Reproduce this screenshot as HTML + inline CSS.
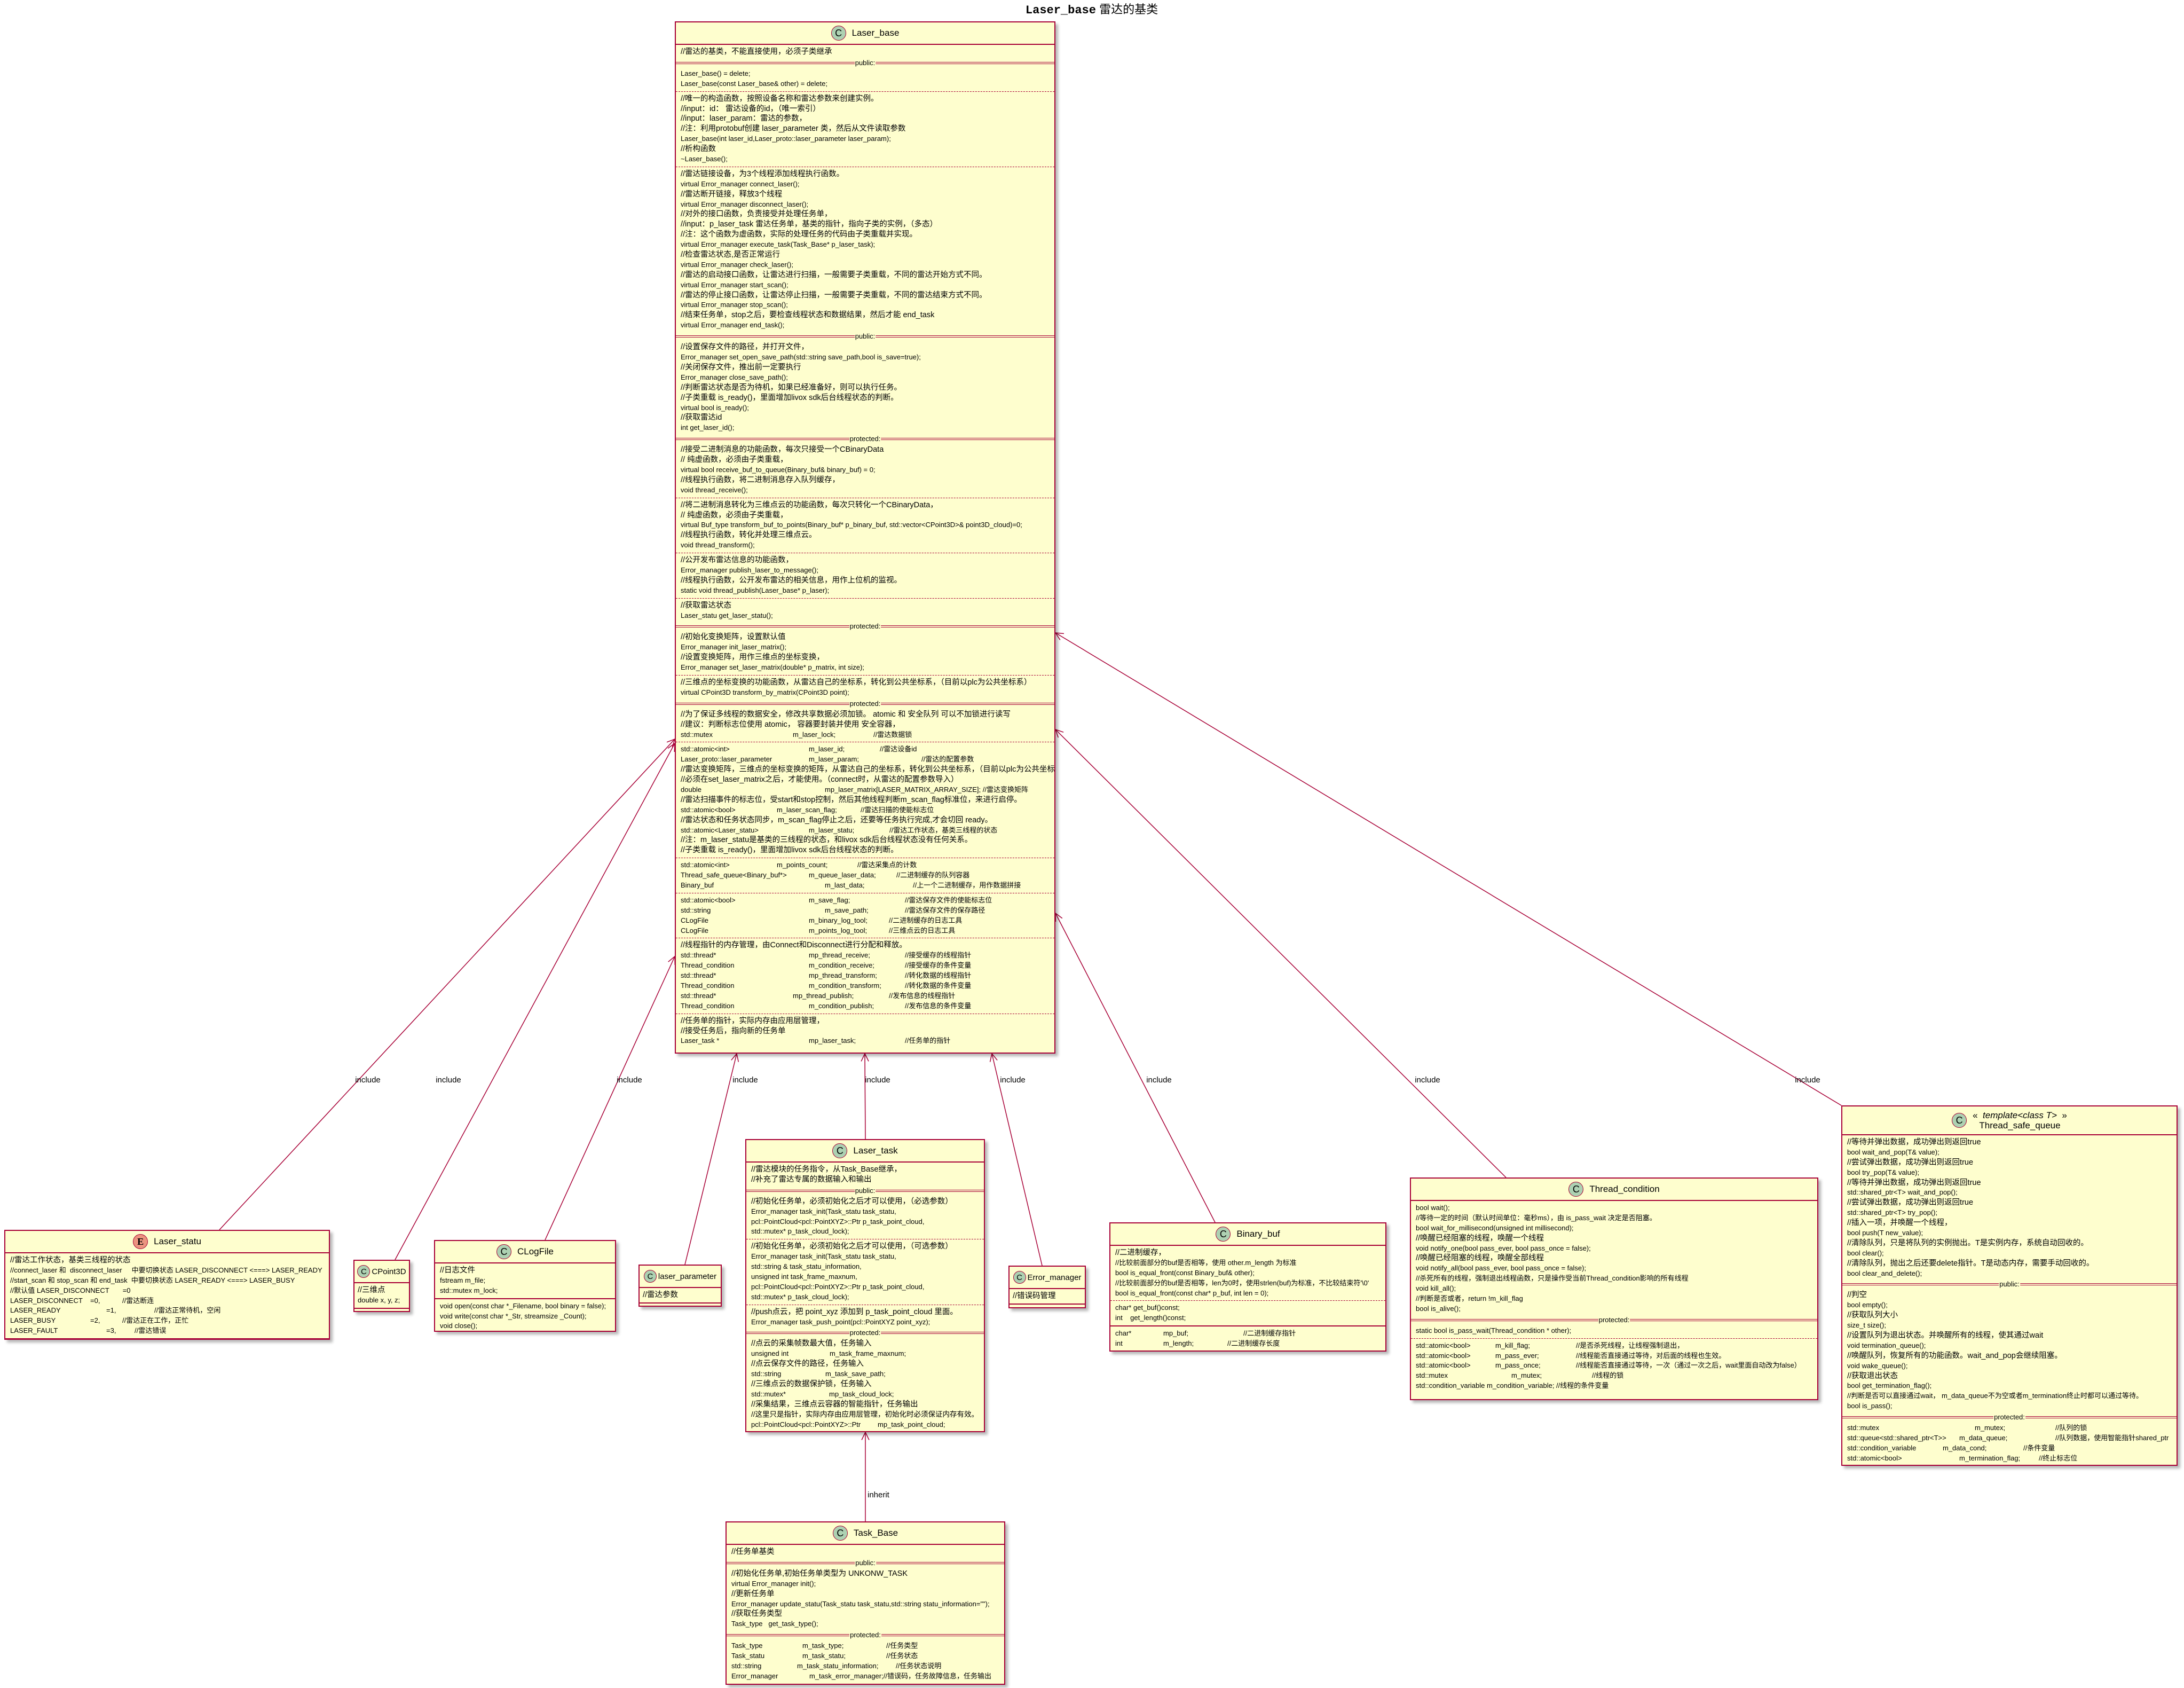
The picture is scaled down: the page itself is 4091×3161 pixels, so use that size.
<!DOCTYPE html>
<html><head><meta charset="utf-8">
<style>
body{margin:0;width:4091px;height:3161px;background:#fff;position:relative;overflow:hidden;font-family:"Liberation Sans","Noto Sans CJK SC",sans-serif}
.b{position:absolute;background:#FEFECE;border:2px solid #A80036;box-shadow:5px 5px 5px rgba(0,0,0,.28);box-sizing:border-box;overflow:hidden;font-size:13px;color:#000}
.h{height:40px;border-bottom:2px solid #A80036;display:flex;align-items:center;justify-content:center;font-size:17px;gap:11px;white-space:nowrap}
.h.n{font-size:15px;gap:3px}
.h.n .ci{width:22px;height:22px;font-size:15px}
.ci{width:26px;height:26px;border-radius:50%;background:#ADD1B2;border:1.5px solid #A80036;display:flex;align-items:center;justify-content:center;font-size:18px;flex:none}
.ci.e{background:#EB937F;font-family:"Liberation Serif",serif;font-weight:bold}
.s{padding:4px 9px}
.s div{height:18.9px;line-height:18.9px;white-space:pre}
.s div.c{font-size:14.5px}
.d{border-top:1px dashed #A80036}
.so{border-top:2px solid #A80036}
.v{position:relative;height:14px}
.v::before{content:"";position:absolute;left:0;right:0;top:5px;height:2px;border-top:1.5px solid #A80036;border-bottom:1.5px solid #A80036}
.v span{position:absolute;left:50%;transform:translateX(-50%);top:-2px;background:#FEFECE;padding:0 1px;line-height:18px;font-size:13px}
i{display:inline-block;font-style:normal}
.e8{height:8px}
svg{position:absolute;left:0;top:0}
</style></head><body>
<svg width="4091" height="3161" id="sv">
<g stroke="#A80036" stroke-width="1.5" fill="none" id="lines"></g>
<g font-family="Liberation Sans, sans-serif" font-size="15" fill="#000">
<text x="689" y="2027" text-anchor="middle">include</text>
<text x="840" y="2027" text-anchor="middle">include</text>
<text x="1179" y="2027" text-anchor="middle">include</text>
<text x="1396" y="2027" text-anchor="middle">include</text>
<text x="1644" y="2027" text-anchor="middle">include</text>
<text x="1897" y="2027" text-anchor="middle">include</text>
<text x="2171" y="2027" text-anchor="middle">include</text>
<text x="2674" y="2027" text-anchor="middle">include</text>
<text x="3386" y="2027" text-anchor="middle">include</text>
<text x="1625" y="2804">inherit</text>
</g>
<text x="2045" y="25" text-anchor="middle" font-family="Liberation Sans, Noto Sans CJK SC, sans-serif" font-size="22"><tspan font-family="Liberation Mono, monospace" font-weight="bold">Laser_base</tspan> 雷达的基类</text>
</svg>

<!-- Laser_base -->
<div class="b" style="left:1264px;top:40px;width:713px;height:1933px">
<div class="h"><div class="ci">C</div>Laser_base</div>
<div class="s"><div class="c">//雷达的基类，不能直接使用，必须子类继承</div></div>
<div class="v"><span>public:</span></div>
<div class="s"><div>Laser_base() = delete;</div><div>Laser_base(const Laser_base&amp; other) = delete;</div></div>
<div class="s d"><div class="c">//唯一的构造函数，按照设备名称和雷达参数来创建实例。</div><div class="c">//input：id： 雷达设备的id，（唯一索引）</div><div class="c">//input：laser_param：雷达的参数，</div><div class="c">//注：利用protobuf创建 laser_parameter 类，然后从文件读取参数</div><div>Laser_base(int laser_id,Laser_proto::laser_parameter laser_param);</div><div class="c">//析构函数</div><div>~Laser_base();</div></div>
<div class="s d"><div class="c">//雷达链接设备，为3个线程添加线程执行函数。</div><div>virtual Error_manager connect_laser();</div><div class="c">//雷达断开链接，释放3个线程</div><div>virtual Error_manager disconnect_laser();</div><div class="c">//对外的接口函数，负责接受并处理任务单，</div><div class="c">//input：p_laser_task 雷达任务单，基类的指针，指向子类的实例，（多态）</div><div class="c">//注：这个函数为虚函数，实际的处理任务的代码由子类重载并实现。</div><div>virtual Error_manager execute_task(Task_Base* p_laser_task);</div><div class="c">//检查雷达状态,是否正常运行</div><div>virtual Error_manager check_laser();</div><div class="c">//雷达的启动接口函数，让雷达进行扫描，一般需要子类重载，不同的雷达开始方式不同。</div><div>virtual Error_manager start_scan();</div><div class="c">//雷达的停止接口函数，让雷达停止扫描，一般需要子类重载，不同的雷达结束方式不同。</div><div>virtual Error_manager stop_scan();</div><div class="c">//结束任务单，stop之后，要检查线程状态和数据结果，然后才能 end_task</div><div>virtual Error_manager end_task();</div></div>
<div class="v"><span>public:</span></div>
<div class="s"><div class="c">//设置保存文件的路径，并打开文件，</div><div>Error_manager set_open_save_path(std::string save_path,bool is_save=true);</div><div class="c">//关闭保存文件，推出前一定要执行</div><div>Error_manager close_save_path();</div><div class="c">//判断雷达状态是否为待机，如果已经准备好，则可以执行任务。</div><div class="c">//子类重载 is_ready()，里面增加livox sdk后台线程状态的判断。</div><div>virtual bool is_ready();</div><div class="c">//获取雷达id</div><div>int get_laser_id();</div></div>
<div class="v"><span>protected:</span></div>
<div class="s"><div class="c">//接受二进制消息的功能函数，每次只接受一个CBinaryData</div><div class="c">// 纯虚函数，必须由子类重载，</div><div>virtual bool receive_buf_to_queue(Binary_buf&amp; binary_buf) = 0;</div><div class="c">//线程执行函数，将二进制消息存入队列缓存，</div><div>void thread_receive();</div></div>
<div class="s d"><div class="c">//将二进制消息转化为三维点云的功能函数，每次只转化一个CBinaryData，</div><div class="c">// 纯虚函数，必须由子类重载，</div><div>virtual Buf_type transform_buf_to_points(Binary_buf* p_binary_buf, std::vector&lt;CPoint3D&gt;&amp; point3D_cloud)=0;</div><div class="c">//线程执行函数，转化并处理三维点云。</div><div>void thread_transform();</div></div>
<div class="s d"><div class="c">//公开发布雷达信息的功能函数，</div><div>Error_manager publish_laser_to_message();</div><div class="c">//线程执行函数，公开发布雷达的相关信息，用作上位机的监视。</div><div>static void thread_publish(Laser_base* p_laser);</div></div>
<div class="s d"><div class="c">//获取雷达状态</div><div>Laser_statu get_laser_statu();</div></div>
<div class="v"><span>protected:</span></div>
<div class="s"><div class="c">//初始化变换矩阵，设置默认值</div><div>Error_manager init_laser_matrix();</div><div class="c">//设置变换矩阵，用作三维点的坐标变换，</div><div>Error_manager set_laser_matrix(double* p_matrix, int size);</div></div>
<div class="s d"><div class="c">//三维点的坐标变换的功能函数，从雷达自己的坐标系，转化到公共坐标系，（目前以plc为公共坐标系）</div><div>virtual CPoint3D transform_by_matrix(CPoint3D point);</div></div>
<div class="v"><span>protected:</span></div>
<div class="s"><div class="c">//为了保证多线程的数据安全，修改共享数据必须加锁。 atomic 和 安全队列 可以不加锁进行读写</div><div class="c">//建议：判断标志位使用 atomic， 容器要封装并使用 安全容器，</div><div><i style="width:210px">std::mutex</i><i style="width:151px">m_laser_lock;</i>//雷达数据锁</div></div>
<div class="s d"><div><i style="width:240px">std::atomic&lt;int&gt;</i><i style="width:133px">m_laser_id;</i>//雷达设备id</div><div><i style="width:240px">Laser_proto::laser_parameter</i><i style="width:211px">m_laser_param;</i>//雷达的配置参数</div><div class="c">//雷达变换矩阵，三维点的坐标变换的矩阵，从雷达自己的坐标系，转化到公共坐标系，（目前以plc为公共坐标系）</div><div class="c">//必须在set_laser_matrix之后，才能使用。（connect时，从雷达的配置参数导入）</div><div><i style="width:270px">double</i>mp_laser_matrix[LASER_MATRIX_ARRAY_SIZE]; //雷达变换矩阵</div><div class="c">//雷达扫描事件的标志位，受start和stop控制，然后其他线程判断m_scan_flag标准位，来进行启停。</div><div><i style="width:180px">std::atomic&lt;bool&gt;</i><i style="width:157px">m_laser_scan_flag;</i>//雷达扫描的使能标志位</div><div class="c">//雷达状态和任务状态同步，m_scan_flag停止之后，还要等任务执行完成,才会切回 ready。</div><div><i style="width:240px">std::atomic&lt;Laser_statu&gt;</i><i style="width:151px">m_laser_statu;</i>//雷达工作状态，基类三线程的状态</div><div class="c">//注：m_laser_statu是基类的三线程的状态，和livox sdk后台线程状态没有任何关系。</div><div class="c">//子类重载 is_ready()，里面增加livox sdk后台线程状态的判断。</div></div>
<div class="s d"><div><i style="width:180px">std::atomic&lt;int&gt;</i><i style="width:151px">m_points_count;</i>//雷达采集点的计数</div><div><i style="width:240px">Thread_safe_queue&lt;Binary_buf*&gt;</i><i style="width:164px">m_queue_laser_data;</i>//二进制缓存的队列容器</div><div><i style="width:270px">Binary_buf</i><i style="width:165px">m_last_data;</i>//上一个二进制缓存，用作数据拼接</div></div>
<div class="s d"><div><i style="width:240px">std::atomic&lt;bool&gt;</i><i style="width:180px">m_save_flag;</i>//雷达保存文件的使能标志位</div><div><i style="width:270px">std::string</i><i style="width:150px">m_save_path;</i>//雷达保存文件的保存路径</div><div><i style="width:240px">CLogFile</i><i style="width:150px">m_binary_log_tool;</i>//二进制缓存的日志工具</div><div><i style="width:240px">CLogFile</i><i style="width:150px">m_points_log_tool;</i>//三维点云的日志工具</div></div>
<div class="s d"><div class="c">//线程指针的内存管理，由Connect和Disconnect进行分配和释放。</div><div><i style="width:240px">std::thread*</i><i style="width:180px">mp_thread_receive;</i>//接受缓存的线程指针</div><div><i style="width:240px">Thread_condition</i><i style="width:180px">m_condition_receive;</i>//接受缓存的条件变量</div><div><i style="width:240px">std::thread*</i><i style="width:180px">mp_thread_transform;</i>//转化数据的线程指针</div><div><i style="width:240px">Thread_condition</i><i style="width:180px">m_condition_transform;</i>//转化数据的条件变量</div><div><i style="width:210px">std::thread*</i><i style="width:180px">mp_thread_publish;</i>//发布信息的线程指针</div><div><i style="width:240px">Thread_condition</i><i style="width:180px">m_condition_publish;</i>//发布信息的条件变量</div></div>
<div class="s d"><div class="c">//任务单的指针，实际内存由应用层管理，</div><div class="c">//接受任务后，指向新的任务单</div><div><i style="width:240px">Laser_task *</i><i style="width:180px">mp_laser_task;</i>//任务单的指针</div></div>
</div>

<!-- Laser_statu -->
<div class="b" style="left:8px;top:2303px;width:610px;height:206px">
<div class="h"><div class="ci e">E</div>Laser_statu</div>
<div class="s"><div class="c">//雷达工作状态，基类三线程的状态</div><div>//connect_laser 和  disconnect_laser     中要切换状态 LASER_DISCONNECT &lt;===&gt; LASER_READY</div><div>//start_scan 和 stop_scan 和 end_task  中要切换状态 LASER_READY &lt;===&gt; LASER_BUSY</div><div>//默认值 LASER_DISCONNECT       =0</div><div><i style="width:150px">LASER_DISCONNECT</i><i style="width:60px">=0,</i>//雷达断连</div><div><i style="width:180px">LASER_READY</i><i style="width:90px">=1,</i>//雷达正常待机，空闲</div><div><i style="width:150px">LASER_BUSY</i><i style="width:60px">=2,</i>//雷达正在工作，正忙</div><div><i style="width:180px">LASER_FAULT</i><i style="width:53px">=3,</i>//雷达错误</div></div>
<div class="so e8"></div>
</div>

<!-- CPoint3D -->
<div class="b" style="left:662px;top:2359px;width:106px;height:98px">
<div class="h n"><div class="ci">C</div>CPoint3D</div>
<div class="s" style="padding:4px 6px"><div class="c">//三维点</div><div>double x, y, z;</div></div>
<div class="so e8"></div>
</div>

<!-- CLogFile -->
<div class="b" style="left:813px;top:2322px;width:341px;height:172px">
<div class="h"><div class="ci">C</div>CLogFile</div>
<div class="s"><div class="c">//日志文件</div><div>fstream m_file;</div><div>std::mutex m_lock;</div></div>
<div class="s so"><div>void open(const char *_Filename, bool binary = false);</div><div>void write(const char *_Str, streamsize _Count);</div><div>void close();</div></div>
</div>

<!-- laser_parameter -->
<div class="b" style="left:1196px;top:2368px;width:156px;height:79px">
<div class="h n"><div class="ci">C</div>laser_parameter</div>
<div class="s" style="padding:4px 6px"><div class="c">//雷达参数</div></div>
<div class="so e8"></div>
</div>

<!-- Laser_task -->
<div class="b" style="left:1396px;top:2133px;width:449px;height:549px">
<div class="h"><div class="ci">C</div>Laser_task</div>
<div class="s"><div class="c">//雷达模块的任务指令，从Task_Base继承，</div><div class="c">//补充了雷达专属的数据输入和输出</div></div>
<div class="v"><span>public:</span></div>
<div class="s"><div class="c">//初始化任务单，必须初始化之后才可以使用，（必选参数）</div><div>Error_manager task_init(Task_statu task_statu,</div><div>pcl::PointCloud&lt;pcl::PointXYZ&gt;::Ptr p_task_point_cloud,</div><div>std::mutex* p_task_cloud_lock);</div></div>
<div class="s d"><div class="c">//初始化任务单，必须初始化之后才可以使用，（可选参数）</div><div>Error_manager task_init(Task_statu task_statu,</div><div>std::string &amp; task_statu_information,</div><div>unsigned int task_frame_maxnum,</div><div>pcl::PointCloud&lt;pcl::PointXYZ&gt;::Ptr p_task_point_cloud,</div><div>std::mutex* p_task_cloud_lock);</div></div>
<div class="s d"><div class="c">//push点云，把 point_xyz 添加到 p_task_point_cloud 里面。</div><div>Error_manager task_push_point(pcl::PointXYZ point_xyz);</div></div>
<div class="v"><span>protected:</span></div>
<div class="s"><div class="c">//点云的采集帧数最大值，任务输入</div><div><i style="width:147px">unsigned int</i>m_task_frame_maxnum;</div><div class="c">//点云保存文件的路径，任务输入</div><div><i style="width:139px">std::string</i>m_task_save_path;</div><div class="c">//三维点云的数据保护锁，任务输入</div><div><i style="width:146px">std::mutex*</i>mp_task_cloud_lock;</div><div class="c">//采集结果，三维点云容器的智能指针，任务输出</div><div class="c" style="font-size:13.5px">//这里只是指针，实际内存由应用层管理，初始化时必须保证内存有效。</div><div><i style="width:237px">pcl::PointCloud&lt;pcl::PointXYZ&gt;::Ptr</i>mp_task_point_cloud;</div></div>
</div>

<!-- Error_manager -->
<div class="b" style="left:1889px;top:2370px;width:145px;height:80px">
<div class="h n"><div class="ci">C</div>Error_manager</div>
<div class="s" style="padding:4px 6px"><div class="c">//错误码管理</div></div>
<div class="so e8"></div>
</div>

<!-- Binary_buf -->
<div class="b" style="left:2078px;top:2289px;width:519px;height:242px">
<div class="h"><div class="ci">C</div>Binary_buf</div>
<div class="s"><div class="c">//二进制缓存，</div><div>//比较前面部分的buf是否相等，使用 other.m_length 为标准</div><div>bool is_equal_front(const Binary_buf&amp; other);</div><div>//比较前面部分的buf是否相等，len为0时，使用strlen(buf)为标准，不比较结束符'\0'</div><div>bool is_equal_front(const char* p_buf, int len = 0);</div></div>
<div class="s d"><div>char* get_buf()const;</div><div>int    get_length()const;</div></div>
<div class="s so"><div><i style="width:90px">char*</i><i style="width:150px">mp_buf;</i>//二进制缓存指针</div><div><i style="width:90px">int</i><i style="width:120px">m_length;</i>//二进制缓存长度</div></div>
</div>

<!-- Thread_condition -->
<div class="b" style="left:2641px;top:2205px;width:765px;height:417px">
<div class="h"><div class="ci">C</div>Thread_condition</div>
<div class="s"><div>bool wait();</div><div>//等待一定的时间（默认时间单位：毫秒ms），由 is_pass_wait 决定是否阻塞。</div><div>bool wait_for_millisecond(unsigned int millisecond);</div><div class="c">//唤醒已经阻塞的线程，唤醒一个线程</div><div>void notify_one(bool pass_ever, bool pass_once = false);</div><div class="c">//唤醒已经阻塞的线程，唤醒全部线程</div><div>void notify_all(bool pass_ever, bool pass_once = false);</div><div>//杀死所有的线程，强制退出线程函数，只是操作受当前Thread_condition影响的所有线程</div><div>void kill_all();</div><div>//判断是否或者，return !m_kill_flag</div><div>bool is_alive();</div></div>
<div class="v"><span>protected:</span></div>
<div class="s"><div>static bool is_pass_wait(Thread_condition * other);</div></div>
<div class="s d"><div><i style="width:149px">std::atomic&lt;bool&gt;</i><i style="width:151px">m_kill_flag;</i>//是否杀死线程，让线程强制退出，</div><div><i style="width:149px">std::atomic&lt;bool&gt;</i><i style="width:151px">m_pass_ever;</i>//线程能否直接通过等待，对后面的线程也生效。</div><div><i style="width:149px">std::atomic&lt;bool&gt;</i><i style="width:151px">m_pass_once;</i>//线程能否直接通过等待，一次（通过一次之后，wait里面自动改为false）</div><div><i style="width:179px">std::mutex</i><i style="width:151px">m_mutex;</i>//线程的锁</div><div>std::condition_variable m_condition_variable; //线程的条件变量</div></div>
</div>

<!-- Thread_safe_queue -->
<div class="b" style="left:3449px;top:2070px;width:630px;height:675px">
<div class="h" style="height:52px;align-items:center"><div class="ci">C</div><div style="text-align:center;line-height:19px">«&nbsp;&nbsp;<span style="font-style:italic">template&lt;class T&gt;</span>&nbsp;&nbsp;»<br>Thread_safe_queue</div></div>
<div class="s"><div class="c">//等待并弹出数据，成功弹出则返回true</div><div>bool wait_and_pop(T&amp; value);</div><div class="c">//尝试弹出数据，成功弹出则返回true</div><div>bool try_pop(T&amp; value);</div><div class="c">//等待并弹出数据，成功弹出则返回true</div><div>std::shared_ptr&lt;T&gt; wait_and_pop();</div><div class="c">//尝试弹出数据，成功弹出则返回true</div><div>std::shared_ptr&lt;T&gt; try_pop();</div><div class="c">//插入一项，并唤醒一个线程，</div><div>bool push(T new_value);</div><div class="c">//清除队列，只是将队列的实例抛出。T是实例内存，系统自动回收的。</div><div>bool clear();</div><div class="c">//清除队列，抛出之后还要delete指针。T是动态内存，需要手动回收的。</div><div>bool clear_and_delete();</div></div>
<div class="v"><span>public:</span></div>
<div class="s"><div class="c">//判空</div><div>bool empty();</div><div class="c">//获取队列大小</div><div>size_t size();</div><div class="c">//设置队列为退出状态。并唤醒所有的线程，使其通过wait</div><div>void termination_queue();</div><div class="c">//唤醒队列，恢复所有的功能函数。wait_and_pop会继续阻塞。</div><div>void wake_queue();</div><div class="c">//获取退出状态</div><div>bool get_termination_flag();</div><div>//判断是否可以直接通过wait， m_data_queue不为空或者m_termination终止时都可以通过等待。</div><div>bool is_pass();</div></div>
<div class="v"><span>protected:</span></div>
<div class="s"><div><i style="width:239px">std::mutex</i><i style="width:151px">m_mutex;</i>//队列的锁</div><div><i style="width:210px">std::queue&lt;std::shared_ptr&lt;T&gt;&gt;</i><i style="width:180px">m_data_queue;</i>//队列数据，使用智能指针shared_ptr</div><div><i style="width:179px">std::condition_variable</i><i style="width:151px">m_data_cond;</i>//条件变量</div><div><i style="width:210px">std::atomic&lt;bool&gt;</i><i style="width:149px">m_termination_flag;</i>//终止标志位</div></div>
</div>

<!-- Task_Base -->
<div class="b" style="left:1359px;top:2849px;width:524px;height:306px">
<div class="h"><div class="ci">C</div>Task_Base</div>
<div class="s"><div class="c">//任务单基类</div></div>
<div class="v"><span>public:</span></div>
<div class="s"><div class="c">//初始化任务单,初始任务单类型为 UNKONW_TASK</div><div>virtual Error_manager init();</div><div class="c">//更新任务单</div><div>Error_manager update_statu(Task_statu task_statu,std::string statu_information="");</div><div class="c">//获取任务类型</div><div>Task_type   get_task_type();</div></div>
<div class="v"><span>protected:</span></div>
<div class="s"><div><i style="width:133px">Task_type</i><i style="width:157px">m_task_type;</i>//任务类型</div><div><i style="width:133px">Task_statu</i><i style="width:157px">m_task_statu;</i>//任务状态</div><div><i style="width:123px">std::string</i><i style="width:185px">m_task_statu_information;</i>//任务状态说明</div><div><i style="width:146px">Error_manager</i>m_task_error_manager;//错误码，任务故障信息，任务输出</div></div>
</div>

<script>
(function(){
var C=[[411,2303,1264,1384],[740,2359,1264,1392],[1021,2322,1264,1791],[1283,2368,1380,1973],[1621,2133,1620,1973],[1952,2370,1858,1973],[2276,2289,1977,1710],[2821,2205,1977,1366],[3449,2070,1977,1185],[1621,2849,1621,2682]];
var g=document.getElementById('lines'),h='';
C.forEach(function(c){
 var x1=c[0],y1=c[1],x2=c[2],y2=c[3];
 h+='<line x1="'+x1+'" y1="'+y1+'" x2="'+x2+'" y2="'+y2+'"/>';
 var a=Math.atan2(y1-y2,x1-x2),L=16,s=0.45;
 var ax=x2+L*Math.cos(a+s),ay=y2+L*Math.sin(a+s),bx=x2+L*Math.cos(a-s),by=y2+L*Math.sin(a-s);
 h+='<polyline points="'+ax+','+ay+' '+x2+','+y2+' '+bx+','+by+'"/>';
});
g.innerHTML=h;
})();
</script>
</body></html>
